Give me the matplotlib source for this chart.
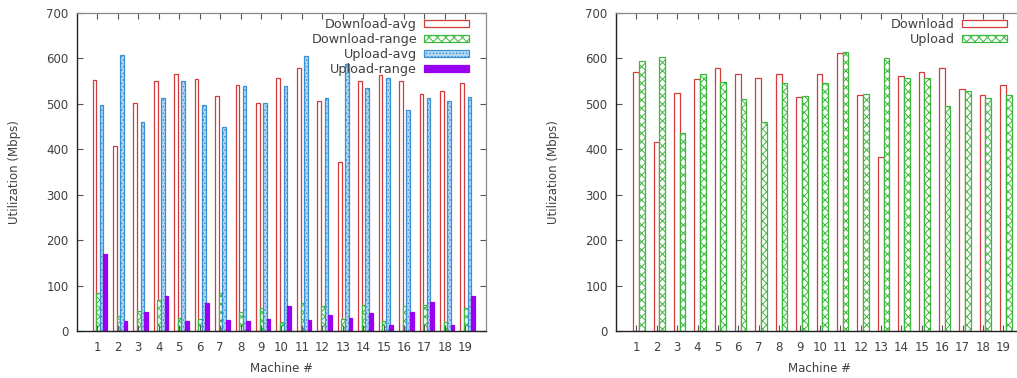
import numpy as np
import matplotlib
matplotlib.use('Agg')
import matplotlib.pyplot as plt

machines = list(range(1, 20))

# left chart
download_avg = [552, 407, 503, 551, 565, 554, 517, 541, 501, 556, 578, 506, 371, 551, 563, 550, 522, 528, 547]
download_range = [83, 33, 43, 68, 28, 26, 83, 42, 51, 20, 61, 55, 26, 57, 21, 55, 57, 20, 51]
upload_avg = [497, 607, 459, 512, 550, 497, 449, 539, 501, 540, 605, 514, 588, 534, 556, 487, 512, 506, 515]
upload_range = [170, 23, 42, 78, 21, 62, 24, 21, 26, 55, 24, 35, 28, 39, 13, 41, 63, 13, 78]

# right chart
download = [570, 415, 525, 554, 578, 565, 556, 565, 515, 565, 613, 519, 382, 561, 570, 578, 533, 520, 541]
upload = [594, 603, 435, 566, 549, 510, 461, 545, 517, 545, 614, 521, 602, 556, 558, 495, 528, 512, 519]

RED = '#d23b3b'
GREEN = '#3cb83c'
BLUE = '#3a90d4'
LBLUE = '#b5daf2'
PURPLE = '#9a00f0'
TXT = '#404040'

plt.rcParams['font.family'] = 'DejaVu Sans'
plt.rcParams['font.size'] = 8.5
plt.rcParams['hatch.linewidth'] = 0.7
plt.rcParams['text.color'] = TXT

fig = plt.figure(figsize=(10.17, 3.78), dpi=100)
ax1 = fig.add_axes([0.0757, 0.1243, 0.402, 0.8413])
ax2 = fig.add_axes([0.6057, 0.1243, 0.401, 0.8413])

x = np.array(machines)
w = 0.18
ax1.bar(x - 0.15, download_avg, w, facecolor='white', edgecolor=RED, lw=0.9, label='Download-avg')
ax1.bar(x + 0.025, download_range, w, facecolor='white', edgecolor=GREEN, hatch='xxxx', lw=0.9, label='Download-range')
ax1.bar(x + 0.2, upload_avg, w, facecolor=LBLUE, edgecolor=BLUE, hatch='.....', lw=0.9, label='Upload-avg')
ax1.bar(x + 0.375, upload_range, w, facecolor=PURPLE, edgecolor=PURPLE, lw=0.9, label='Upload-range')

w2 = 0.28
ax2.bar(x - 0.02, download, w2, facecolor='white', edgecolor=RED, lw=0.9, label='Download')
ax2.bar(x + 0.26, upload, w2, facecolor='white', edgecolor=GREEN, hatch='xxxx', lw=0.9, label='Upload')

for ax in (ax1, ax2):
    ax.set_xlim(0, 20)
    ax.set_ylim(0, 700)
    ax.set_xticks(machines)
    ax.set_yticks(range(0, 701, 100))
    ax.tick_params(direction='in', top=True, right=True, length=4, width=0.8,
                   color='#555555', labelcolor=TXT, pad=7)
    ax.tick_params(axis='y', pad=6)
    for s in ('left', 'bottom'):
        ax.spines[s].set_color('#222222')
        ax.spines[s].set_linewidth(1.0)
    for s in ('top', 'right'):
        ax.spines[s].set_color('#888888')
        ax.spines[s].set_linewidth(0.9)
    ax.set_xlabel('Machine #', color=TXT, labelpad=6)
    ax.set_ylabel('Utilization (Mbps)', color=TXT, labelpad=18)
    ax.legend(loc='upper right', bbox_to_anchor=(0.958, 0.985), frameon=False,
              markerfirst=False, handlelength=3.5, handleheight=0.5,
              handletextpad=0.55, labelspacing=0.17, borderpad=0, borderaxespad=0,
              fontsize=9.2)

fig.savefig('out.png', dpi=100)
